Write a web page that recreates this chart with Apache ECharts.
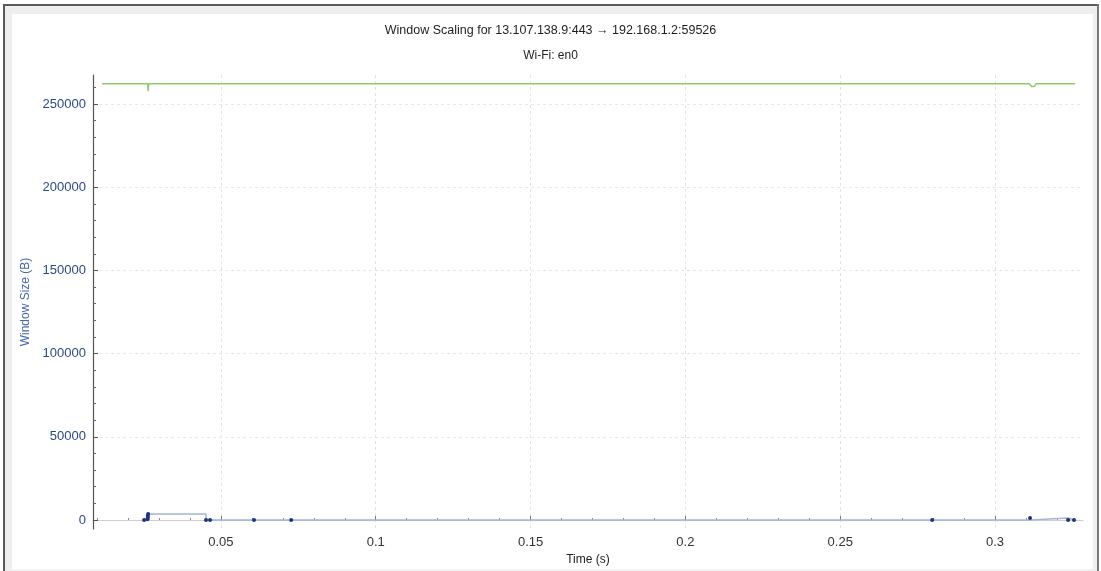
<!DOCTYPE html>
<html>
<head>
<meta charset="utf-8">
<script src="https://cdn.jsdelivr.net/npm/echarts@6/dist/echarts.min.js"></script>
<style>
html,body{margin:0;padding:0;background:#fff;}
#chart{width:1101px;height:571px;}
</style>
</head>
<body>
<div id="chart"></div>
<script>
// ---- data ----
const titleText = 'Window Scaling for 13.107.138.9:443 \u2192 192.168.1.2:59526';
const subtitleText = 'Wi-Fi: en0';
const xName = 'Time (s)';
const yName = 'Window Size (B)';
const xMin = 0.0087, xMax = 0.3284;
const yMin = -5409, yMax = 267430;
const xTickValues = [0.05, 0.1, 0.15, 0.2, 0.25, 0.3];
const xMinorTickValues = [0.01,0.02,0.03,0.04,0.06,0.07,0.08,0.09,0.11,0.12,0.13,0.14,0.16,0.17,0.18,0.19,0.21,0.22,0.23,0.24,0.26,0.27,0.28,0.29,0.31,0.32];
const yTickValues = [0, 50000, 100000, 150000, 200000, 250000];
const yMinorTickValues = [10000,20000,30000,40000,60000,70000,80000,90000,110000,120000,130000,140000,160000,170000,180000,190000,210000,220000,230000,240000,260000];

// receive window (green)
const rwinTime  = [0.0116, 0.0264, 0.0265, 0.0266, 0.0267, 0.3111, 0.3118, 0.3126, 0.3133, 0.3258];
const rwinValue = [262144, 262144, 257800, 257800, 262144, 262144, 260500, 260500, 262144, 262144];
// bytes in flight (blue)
const bifTime  = [0.0252, 0.0263, 0.0264, 0.0264, 0.0265, 0.0452, 0.0465, 0.0607, 0.0727, 0.2797, 0.3113, 0.3236, 0.3255];
const bifValue = [0, 500, 1500, 2500, 3600, 0, 0, 0, 0, 0, 1200, 0, 0];

const font = "'Liberation Sans', Arial, sans-serif";
const chart = echarts.init(document.getElementById('chart'), null, {renderer: 'canvas'});

const zip = (a, b) => a.map((v, i) => [v, b[i]]);

chart.setOption({
  animation: false,
  backgroundColor: '#ffffff',
  textStyle: {fontFamily: font},
  graphic: [
    {type: 'rect', shape: {x: 5, y: 6, width: 1092, height: 8}, style: {fill: '#eeeeee'}, silent: true},
    {type: 'rect', shape: {x: 5, y: 6, width: 7, height: 565}, style: {fill: '#eeeeee'}, silent: true},
    {type: 'rect', shape: {x: 1093, y: 6, width: 4, height: 565}, style: {fill: '#eeeeee'}, silent: true},
    {type: 'rect', shape: {x: 12, y: 569, width: 1081, height: 2}, style: {fill: '#f2f2f2'}, silent: true},
    {type: 'rect', shape: {x: 3, y: 4, width: 1096, height: 2}, style: {fill: '#5a5a5a'}, silent: true},
    {type: 'rect', shape: {x: 3, y: 4, width: 2, height: 567}, style: {fill: '#5a5a5a'}, silent: true},
    {type: 'rect', shape: {x: 1097, y: 4, width: 2, height: 567}, style: {fill: '#7a7a7a'}, silent: true}
  ],
  title: [
    {text: titleText, left: 'center', top: 19, textStyle: {fontSize: 12.5, fontWeight: 'normal', color: '#1e1e1e', fontFamily: font}},
    {text: subtitleText, left: 'center', top: 45, textStyle: {fontSize: 12, fontWeight: 'normal', color: '#1e1e1e', fontFamily: font}}
  ],
  grid: {left: 93, right: 18, top: 75, bottom: 42, containLabel: false},
  xAxis: [
    {
      type: 'value', min: xMin, max: xMax, position: 'bottom',
      name: xName, nameLocation: 'middle', nameGap: 21,
      nameTextStyle: {fontSize: 12, color: '#222'},
      axisLine: {show: true, lineStyle: {color: '#cfcfcf', width: 1}},
      axisTick: {show: true, inside: true, length: 4, customValues: xTickValues, lineStyle: {color: '#777'}},
      axisLabel: {show: true, customValues: xTickValues, fontSize: 13, color: '#333', margin: 7,
                  formatter: v => String(+v.toFixed(4))},
      splitLine: {show: true, lineStyle: {color: '#e3e3e3', type: [3, 3]}}
    },
    {
      type: 'value', min: xMin, max: xMax, position: 'bottom',
      axisLine: {show: false},
      axisTick: {show: true, inside: true, length: 2, customValues: xMinorTickValues, lineStyle: {color: '#888'}},
      axisLabel: {show: false},
      splitLine: {show: false}
    }
  ],
  yAxis: [
    {
      type: 'value', min: yMin, max: yMax, position: 'left',
      name: yName, nameLocation: 'middle', nameGap: 58,
      nameTextStyle: {fontSize: 12, color: '#4a64ad'},
      axisLine: {show: true, lineStyle: {color: '#555', width: 1.2}},
      axisTick: {show: true, inside: true, length: 5, customValues: yTickValues, lineStyle: {color: '#555'}},
      axisLabel: {show: true, customValues: yTickValues, fontSize: 13, color: '#2c4888', margin: 7,
                  formatter: v => String(v)},
      splitLine: {show: true, lineStyle: {color: '#e8e8e8', type: [3, 3]}}
    },
    {
      type: 'value', min: yMin, max: yMax, position: 'left',
      axisLine: {show: false},
      axisTick: {show: true, inside: true, length: 3, customValues: yMinorTickValues, lineStyle: {color: '#666'}},
      axisLabel: {show: false},
      splitLine: {show: false}
    }
  ],
  series: [
    {
      name: 'rwin', type: 'line', xAxisIndex: 0, yAxisIndex: 0,
      data: zip(rwinTime, rwinValue),
      showSymbol: false, symbol: 'none',
      lineStyle: {color: '#8fcc6a', width: 1.5},
      itemStyle: {color: '#8fcc6a'},
      clip: false, z: 3
    },
    {
      name: 'bytes', type: 'line', xAxisIndex: 0, yAxisIndex: 0,
      data: zip(bifTime, bifValue),
      step: 'end',
      symbol: 'circle', symbolSize: 4, showSymbol: true, showAllSymbol: true,
      lineStyle: {color: '#a3b6d8', width: 1.5},
      itemStyle: {color: '#1d3578'},
      clip: false, z: 4
    }
  ]
});
</script>
</body>
</html>
